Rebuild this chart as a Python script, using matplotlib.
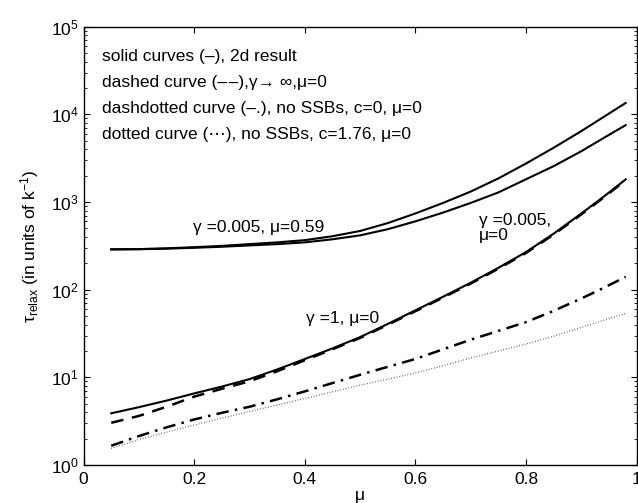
import matplotlib
matplotlib.use('Agg')
import matplotlib.pyplot as plt
import numpy as np
from matplotlib.ticker import LogLocator, NullFormatter, FixedLocator

plt.rcParams['font.family'] = ['Liberation Sans', 'DejaVu Sans']
plt.rcParams['mathtext.fontset'] = 'custom'
plt.rcParams['mathtext.rm'] = 'Liberation Sans'
plt.rcParams['mathtext.it'] = 'Liberation Sans:italic'

# values
mu = [0.05, 0.1, 0.15, 0.2, 0.25, 0.3, 0.35, 0.4, 0.45, 0.5,
      0.55, 0.6, 0.65, 0.7, 0.75, 0.8, 0.85, 0.9, 0.94, 0.98]

tau_2d_top = [288.4, 290.4, 296.5, 305.5, 316.2, 331.1, 346.7, 367.3, 407.4, 467.7,
              575.4, 741.3, 977.2, 1318, 1862, 2754, 4169, 6457, 9333, 13490]
tau_2d_second = [288.4, 289.7, 293.8, 300.6, 309.0, 319.9, 331.1, 346.7, 375.8, 416.9,
                 489.8, 602.6, 758.6, 977.2, 1288, 1820, 2570, 3802, 5370, 7534]
tau_2d_mu0 = [3.89, 4.57, 5.43, 6.56, 7.85, 9.55, 12.3, 16.2, 21.4, 28.8,
              40.7, 58.2, 83.2, 120.2, 177.8, 269.2, 436.5, 741.3, 1148, 1811]
tau_inf = [3.03, 3.63, 4.62, 6.03, 7.41, 9.02, 11.75, 15.67, 20.9, 28.2,
           39.8, 56.9, 81.3, 117.5, 173.8, 263.0, 426.6, 724.4, 1122, 1778]
tau_c0 = [1.66, 2.14, 2.69, 3.31, 3.94, 4.62, 5.62, 6.92, 8.61, 10.7,
          13.2, 16.2, 20.9, 26.9, 33.9, 42.7, 57.5, 79.4, 104.7, 140.3]
tau_c176 = [1.55, 1.95, 2.37, 2.86, 3.43, 4.07, 4.84, 5.75, 6.84, 8.13,
            9.55, 11.2, 13.6, 16.6, 20.0, 24.0, 29.5, 37.2, 44.7, 53.7]

legend_lines = [
    'solid curves (\u2013), 2d result',
    'dashed curve (\u2013\u200a\u2013),\u03b3\u2192 \u221e,\u03bc=0',
    'dashdotted curve (\u2013.), no SSBs, c=0, \u03bc=0',
    'dotted curve (\u22ef), no SSBs, c=1.76, \u03bc=0',
]

fig = plt.figure(figsize=(6.38, 5.03), dpi=100)
ax = fig.add_axes([0.131, 0.0755, 0.867, 0.8714])

ax.plot(mu, tau_2d_top, color='k', lw=1.5)
ax.plot(mu, tau_2d_second, color='k', lw=1.5)
ax.plot(mu, tau_2d_mu0, color='k', lw=1.5)
ax.plot(mu, tau_inf, color='k', lw=1.8, dashes=[5, 3.5])
ax.plot(mu, tau_c0, color='k', lw=1.8, dashes=[5, 2.5, 1, 2.5])
ax.plot(mu, tau_c176, color='#444444', lw=0.9, dashes=[0.6, 1.6])

ax.set_yscale('log')
ax.set_xlim(0, 1)
ax.set_ylim(1, 1e5)
ax.xaxis.set_major_locator(FixedLocator([0, 0.2, 0.4, 0.6, 0.8, 1.0]))
ax.set_xticklabels(['0', '0.2', '0.4', '0.6', '0.8', '1'])
ax.yaxis.set_major_locator(LogLocator(base=10, numticks=10))
ax.yaxis.set_minor_locator(LogLocator(base=10, subs=np.arange(2, 10), numticks=20))
ax.yaxis.set_minor_formatter(NullFormatter())
ax.tick_params(which='both', direction='in', top=True, right=True, labelsize=12.5)
ax.tick_params(which='major', length=4, width=0.8)
ax.tick_params(which='minor', length=2.5, width=0.6)
ax.tick_params(axis='x', pad=5)
for s in ax.spines.values():
    s.set_linewidth(1.0)

ax.set_xlabel('\u03bc', fontsize=12.5, labelpad=1)
ax.set_ylabel(r'$\mathrm{\tau}_{\mathrm{relax}}$ (in units of k$^{-1}$)', fontsize=12.5, labelpad=7)

for i, line in enumerate(legend_lines):
    ax.text(0.033, 0.933 - i * 0.06, line, transform=ax.transAxes,
            fontsize=12.5, va='center', ha='left')

ax.text(0.198, 515, '\u03b3 =0.005, \u03bc=0.59', fontsize=12.5, va='center')
ax.text(0.714, 510, '\u03b3 =0.005,\n\u03bc=0', fontsize=12.5, va='center', linespacing=1.0)
ax.text(0.403, 47, '\u03b3 =1, \u03bc=0', fontsize=12.5, va='center')

fig.savefig('out.png', dpi=100)
